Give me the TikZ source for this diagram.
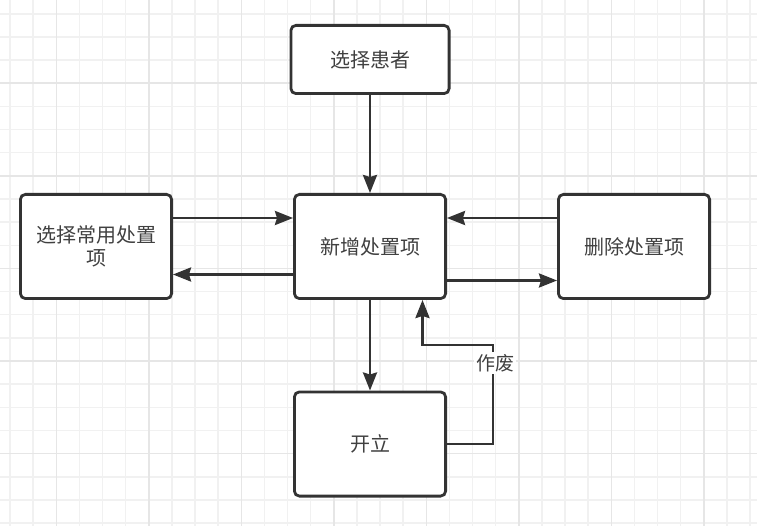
\documentclass[tikz,border=0pt]{standalone}
\usepackage{fontspec}
\newfontfamily\cjk{Noto Sans CJK SC}
\usetikzlibrary{arrows.meta}
\definecolor{linegray}{HTML}{333333}
\definecolor{textgray}{HTML}{404040}
\definecolor{gridminor}{HTML}{F1F1F1}
\definecolor{gridmajor}{HTML}{E6E6E6}

\begin{document}
\begin{tikzpicture}[x=1pt, y=-1pt,
  box/.style={draw=linegray, line width=2.8pt, rounded corners=5pt, fill=white, text=textgray,
    font=\cjk\fontsize{20}{23}\selectfont, align=center, inner sep=0pt,
    minimum width=151.2pt, minimum height=104.2pt},
  arr/.style={draw=linegray, line width=2.8pt, -{Stealth[length=18pt, width=14pt, inset=2pt]}},
  lbl/.style={fill=white, text=textgray, font=\cjk\fontsize{19}{23}\selectfont, inner sep=2pt}]
    \useasboundingbox (0,0) rectangle (757,526);
    \fill[white] (0,0) rectangle (757,526);
    % grid
    \foreach \k in {0,...,32}
        \draw[gridminor, line width=1.5pt] ({10+23.125*\k},0) -- ({10+23.125*\k},526);
    \foreach \k in {0,...,22}
        \draw[gridminor, line width=1.5pt] (0,{13.8+23.15*\k}) -- (757,{13.8+23.15*\k});
    \foreach \k in {2,6,...,30}
        \draw[gridmajor, line width=1.5pt] ({10+23.125*\k},0) -- ({10+23.125*\k},526);
    \foreach \k in {3,7,...,19}
        \draw[gridmajor, line width=1.5pt] (0,{13.8+23.15*\k}) -- (757,{13.8+23.15*\k});
    % boxes
    \node[box, minimum width=158.2pt, minimum height=68.2pt] (patient) at (370,59.5) {选择患者};
    \node[box] (common) at (96,246.5) {选择常用处置\\项};
    \node[box] (add) at (370,246.5) {新增处置项};
    \node[box] (del) at (634,246.5) {删除处置项};
    \node[box] (open) at (370,444) {开立};
    % arrows
    \draw[arr] (patient) -- (add);
    \draw[arr] ([yshift=-25pt]common.north east) -- ([yshift=-25pt]add.north west);
    \draw[arr] ([yshift=25.5pt]add.south west) -- ([yshift=25.5pt]common.south east);
    \draw[arr] ([yshift=-25pt]del.north west) -- ([yshift=-25pt]add.north east);
    \draw[arr] ([yshift=19.5pt]add.south east) -- ([yshift=19.5pt]del.south west);
    \draw[arr] (add) -- (open);
    \coordinate (bend) at (493,345);
    \draw[arr] (open.east) -| (bend) -| ([xshift=52.5pt]add.south);
    \node[lbl] (void) at (495,363) {作废};
\end{tikzpicture}
\end{document}
